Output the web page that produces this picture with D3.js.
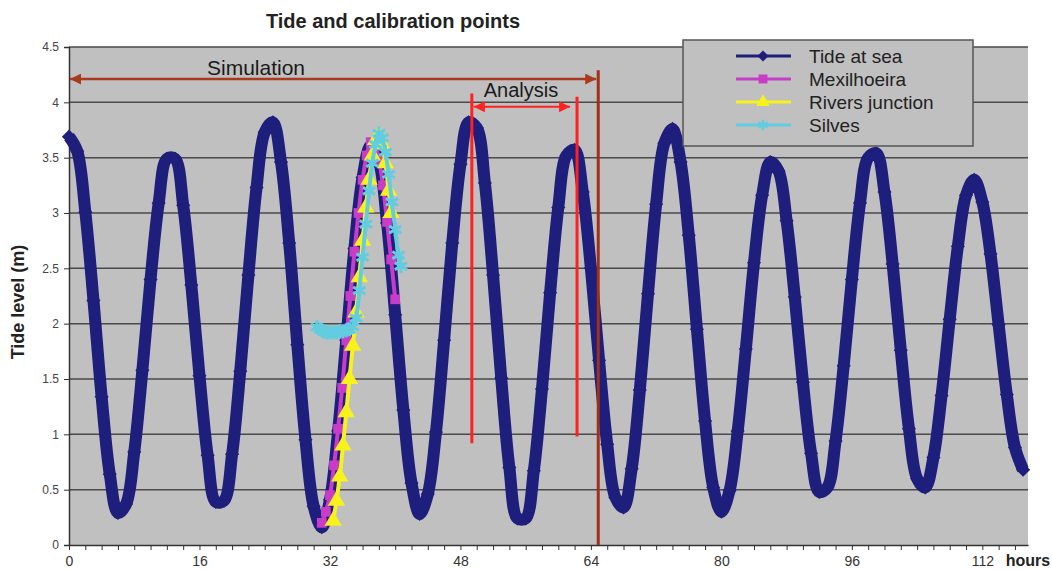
<!DOCTYPE html>
<html>
<head>
<meta charset="utf-8">
<script src="https://cdn.jsdelivr.net/npm/d3@7"></script>
<style>
  body { margin: 0; background: #fff; }
  text { font-family: "Liberation Sans", Arial, sans-serif; }
</style>
</head>
<body>
<svg width="1052" height="569"></svg>
<script>
// ---- data ----
// tide at sea, one reading per hour starting at hour 0
var tideLevel = [
  3.69, 3.56, 3.01, 2.21, 1.34, 0.64, 0.29, 0.37, 0.84, 1.58,
  2.40, 3.09, 3.49, 3.49, 3.07, 2.35, 1.53, 0.81, 0.39, 0.40,
  0.82, 1.57, 2.44, 3.23, 3.73, 3.82, 3.46, 2.73, 1.81, 0.95,
  0.35, 0.16, 0.41, 1.03, 1.85, 2.68, 3.32, 3.61, 3.47, 2.91,
  2.08, 1.22, 0.56, 0.28, 0.46, 1.02, 1.85, 2.73, 3.44, 3.82,
  3.77, 3.27, 2.44, 1.51, 0.70, 0.24, 0.24, 0.67, 1.41, 2.28,
  3.05, 3.52, 3.57, 3.19, 2.50, 1.67, 0.91, 0.43, 0.34, 0.69,
  1.40, 2.27, 3.08, 3.63, 3.76, 3.46, 2.80, 1.95, 1.12, 0.52,
  0.30, 0.49, 1.03, 1.77, 2.55, 3.16, 3.46, 3.38, 2.93, 2.24,
  1.47, 0.83, 0.48, 0.52, 0.94, 1.62, 2.40, 3.09, 3.50, 3.54,
  3.19, 2.54, 1.76, 1.05, 0.60, 0.52, 0.79, 1.35, 2.04, 2.70,
  3.16, 3.30, 3.10, 2.63, 1.99, 1.36, 0.88, 0.68
];

var mexHours = [31.0, 31.5, 32.0, 32.5, 33.0, 33.5, 34.0, 34.5, 35.0, 35.5,
                36.0, 36.5, 37.0, 37.5, 38.0, 38.5, 39.0, 39.5, 40.0];
var mexLevel = [0.20, 0.30, 0.45, 0.72, 1.05, 1.42, 1.85, 2.25, 2.65, 3.00,
                3.30, 3.52, 3.64, 3.62, 3.48, 3.25, 2.92, 2.58, 2.22];

var riversHours = [32.4, 32.8, 33.2, 33.6, 34.0, 34.4, 34.8, 35.2, 35.6, 36.0,
                   36.4, 36.8, 37.2, 37.6, 38.0, 38.4, 38.8, 39.2, 39.5];
var riversLevel = [0.22, 0.40, 0.62, 0.90, 1.20, 1.50, 1.80, 2.10, 2.42, 2.75,
                   3.05, 3.30, 3.52, 3.66, 3.70, 3.62, 3.45, 3.20, 3.00];

var silvesHours = [30.4, 30.8, 31.2, 31.6, 32.0, 32.4, 32.8, 33.2, 33.6, 34.0,
                   34.4, 34.8, 35.2, 35.6, 36.0, 36.4, 36.8, 37.2, 37.6, 38.0,
                   38.4, 38.8, 39.2, 39.6, 40.0, 40.4, 40.7];
var silvesLevel = [1.97, 1.95, 1.93, 1.92, 1.92, 1.92, 1.92, 1.93, 1.93, 1.94,
                   1.95, 1.97, 2.05, 2.30, 2.60, 2.90, 3.20, 3.45, 3.62, 3.72,
                   3.68, 3.55, 3.35, 3.10, 2.85, 2.62, 2.52];

var seriesNames = ["Tide at sea", "Mexilhoeira", "Rivers junction", "Silves"];
var yTicks = [0, 0.5, 1, 1.5, 2, 2.5, 3, 3.5, 4, 4.5];
var xLabels = [0, 16, 32, 48, 64, 80, 96, 112];
var xMinor = [0, 2, 4, 6, 8, 10, 12, 14, 16, 18, 20, 22, 24, 26, 28, 30, 32, 34, 36, 38,
              40, 42, 44, 46, 48, 50, 52, 54, 56, 58, 60, 62, 64, 66, 68, 70, 72, 74, 76, 78,
              80, 82, 84, 86, 88, 90, 92, 94, 96, 98, 100, 102, 104, 106, 108, 110, 112, 114, 116];

// annotation positions (hours / metres)
var simEnd = 64.9, simLevel = 4.21, simTop = 4.29;
var anaStart = 49.4, anaEnd = 62.3, anaLevel = 3.96;
var anaTop = [4.08, 4.05], anaBottom = [0.92, 0.98];

// ---- layout ----
var svg = d3.select("svg");
var plotL = 69, plotR = 1028, plotT = 47, plotB = 545;

var x = d3.scaleLinear().domain([0, 117.6]).range([plotL, plotR]);
var y = d3.scaleLinear().domain([0, 4.5]).range([plotB, plotT]);

var navy = "#1e1e7c", magenta = "#c83cc8", yellow = "#f8f21c", cyan = "#62cce0";

// plot background
svg.append("rect")
  .attr("x", plotL).attr("y", plotT)
  .attr("width", plotR - plotL).attr("height", plotB - plotT)
  .attr("fill", "#c0c0c0");

// grid
svg.append("g").selectAll("line")
  .data(yTicks.filter(d => d > 0))
  .join("line")
  .attr("x1", plotL).attr("x2", plotR)
  .attr("y1", d => y(d)).attr("y2", d => y(d))
  .attr("stroke", "#4a4a4a").attr("stroke-width", 1.5);

// axes
var yAxis = svg.append("g")
  .attr("transform", "translate(" + plotL + ",0)")
  .call(d3.axisLeft(y).tickValues(yTicks).tickSize(5).tickPadding(5).tickFormat(d => d));
yAxis.select(".domain").attr("stroke", "#333").attr("stroke-width", 1.5);
yAxis.selectAll(".tick line").attr("stroke", "#333");
yAxis.selectAll("text").attr("font-size", 12).attr("fill", "#444")
  .attr("font-family", "Liberation Sans, Arial, sans-serif");

var xAxis = svg.append("g")
  .attr("transform", "translate(0," + plotB + ")")
  .call(d3.axisBottom(x).tickValues(xMinor).tickSize(5).tickSizeOuter(0)
    .tickFormat(d => xLabels.indexOf(d) >= 0 ? d : ""));
xAxis.select(".domain").attr("stroke", "#333").attr("stroke-width", 1.5);
xAxis.selectAll(".tick line").attr("stroke", "#333");
xAxis.selectAll("text").attr("font-size", 14).attr("fill", "#333").attr("dy", "0.9em")
  .attr("font-family", "Liberation Sans, Arial, sans-serif");

// ---- series ----
var tide = tideLevel.map((v, i) => [i, v]);
var smooth = d3.line().x(d => x(d[0])).y(d => y(d[1])).curve(d3.curveCatmullRom);

svg.append("path").datum(tide)
  .attr("d", smooth).attr("fill", "none")
  .attr("stroke", navy).attr("stroke-width", 12).attr("stroke-linejoin", "round");

var diamond = d3.symbol(d3.symbolSquare, 100);
svg.append("g").selectAll("path")
  .data(tide).join("path")
  .attr("d", diamond)
  .attr("transform", d => "translate(" + x(d[0]) + "," + y(d[1]) + ") rotate(45)")
  .attr("fill", navy);

function calib(hrs, lvl, color, shape, size, stroked) {
  var pts = hrs.map((h, i) => [h, lvl[i]]);
  svg.append("path").datum(pts)
    .attr("d", smooth).attr("fill", "none")
    .attr("stroke", color).attr("stroke-width", 4);
  var sym = d3.symbol(shape, size);
  svg.append("g").selectAll("path")
    .data(pts).join("path")
    .attr("d", sym)
    .attr("transform", d => "translate(" + x(d[0]) + "," + y(d[1]) + ")")
    .attr("fill", stroked ? "none" : color)
    .attr("stroke", stroked ? color : "none")
    .attr("stroke-width", 3);
}
calib(mexHours, mexLevel, magenta, d3.symbolSquare, 95, false);
calib(riversHours, riversLevel, yellow, d3.symbolTriangle, 130, false);
calib(silvesHours, silvesLevel, cyan, d3.symbolAsterisk, 140, true);

// ---- annotations ----
var defs = svg.append("defs");
function arrowHead(id, color) {
  defs.append("marker")
    .attr("id", id).attr("viewBox", "0 0 10 10")
    .attr("refX", 10).attr("refY", 5)
    .attr("markerWidth", 13).attr("markerHeight", 11)
    .attr("markerUnits", "userSpaceOnUse")
    .attr("orient", "auto-start-reverse")
    .append("path").attr("d", "M0,0L10,5L0,10Z").attr("fill", color);
}
arrowHead("simArrow", "#a83a1e");
arrowHead("anaArrow", "#ff2222");

svg.append("line")
  .attr("x1", x(0) + 1).attr("x2", x(simEnd) - 2)
  .attr("y1", y(simLevel)).attr("y2", y(simLevel))
  .attr("stroke", "#a83a1e").attr("stroke-width", 2.5)
  .attr("marker-start", "url(#simArrow)").attr("marker-end", "url(#simArrow)");
svg.append("line")
  .attr("x1", x(simEnd)).attr("x2", x(simEnd))
  .attr("y1", y(simTop)).attr("y2", y(0))
  .attr("stroke", "#a0301a").attr("stroke-width", 3);
svg.append("text")
  .attr("x", 256).attr("y", 75).attr("text-anchor", "middle")
  .attr("font-size", 21).attr("fill", "#1a1a1a").text("Simulation");

svg.selectAll(".anaLine")
  .data([anaStart, anaEnd]).join("line")
  .attr("x1", d => x(d)).attr("x2", d => x(d))
  .attr("y1", (d, i) => y(anaTop[i])).attr("y2", (d, i) => y(anaBottom[i]))
  .attr("stroke", "#ff2020").attr("stroke-width", 3);
svg.append("line")
  .attr("x1", x(anaStart) + 2).attr("x2", x(anaEnd) - 7)
  .attr("y1", y(anaLevel)).attr("y2", y(anaLevel))
  .attr("stroke", "#ff2222").attr("stroke-width", 2)
  .attr("marker-start", "url(#anaArrow)").attr("marker-end", "url(#anaArrow)");
svg.append("text")
  .attr("x", 521).attr("y", 97).attr("text-anchor", "middle")
  .attr("font-size", 20).attr("fill", "#1a1a1a").text("Analysis");

// ---- legend ----
var lg = svg.append("g").attr("transform", "translate(683,40)");
lg.append("rect").attr("width", 290).attr("height", 106)
  .attr("fill", "#c0c0c0").attr("stroke", "#555").attr("stroke-width", 1.5);
var legendShapes = [null, d3.symbolSquare, d3.symbolTriangle, d3.symbolAsterisk];
var legendColors = [navy, magenta, yellow, cyan];
seriesNames.forEach(function (name, i) {
  var ry = 16 + i * 23;
  lg.append("line").attr("x1", 53).attr("x2", 108).attr("y1", ry).attr("y2", ry)
    .attr("stroke", legendColors[i]).attr("stroke-width", 3);
  var m = lg.append("path")
    .attr("fill", i === 3 ? "none" : legendColors[i])
    .attr("stroke", i === 3 ? legendColors[i] : "none").attr("stroke-width", 2.5);
  if (i === 0) {
    m.attr("d", d3.symbol(d3.symbolSquare, 60)).attr("transform", "translate(80," + ry + ") rotate(45)");
  } else {
    m.attr("d", d3.symbol(legendShapes[i], 80)).attr("transform", "translate(80," + ry + ")");
  }
  lg.append("text").attr("x", 126).attr("y", ry).attr("dy", "0.35em")
    .attr("font-size", 19).attr("fill", "#222").text(name);
});

// ---- titles ----
svg.append("text")
  .attr("x", 393).attr("y", 28).attr("text-anchor", "middle")
  .attr("font-size", 20).attr("font-weight", "bold").attr("fill", "#222")
  .text("Tide and calibration points");
svg.append("text")
  .attr("transform", "translate(24,302) rotate(-90)").attr("text-anchor", "middle")
  .attr("font-size", 18).attr("font-weight", "bold").attr("fill", "#222")
  .text("Tide level (m)");
svg.append("text")
  .attr("x", 1028).attr("y", 566).attr("text-anchor", "middle")
  .attr("font-size", 16).attr("font-weight", "bold").attr("fill", "#222")
  .text("hours");
</script>
</body>
</html>
